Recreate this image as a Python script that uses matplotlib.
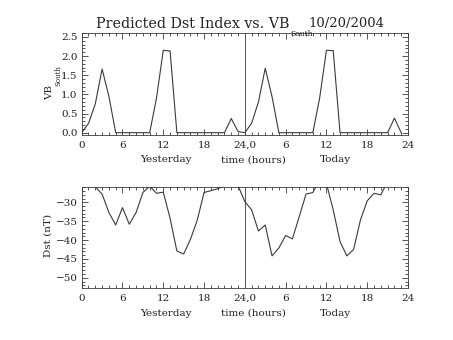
import matplotlib
matplotlib.use('Agg')
import matplotlib.pyplot as plt
from matplotlib.ticker import MultipleLocator
import matplotlib.transforms as mtransforms

# hourly values, yesterday (0-23) then today (24-47)
hours = list(range(48))
vb_south = [0.0, 0.24, 0.75, 1.66, 0.95, 0.0, 0.0, 0.0, 0.0, 0.0,
            0.0, 0.9, 2.15, 2.13, 0.0, 0.0, 0.0, 0.0, 0.0, 0.0,
            0.0, 0.0, 0.37, 0.03,
            0.0, 0.25, 0.8, 1.68, 0.94, 0.0, 0.0, 0.0, 0.0, 0.0,
            0.0, 0.9, 2.15, 2.14, 0.0, 0.0, 0.0, 0.0, 0.0, 0.0,
            0.0, 0.0, 0.38, 0.0]
dst = [-24.0, -24.5, -25.9, -27.8, -32.7, -36.0, -31.4, -35.8, -32.7, -27.4,
       -25.7, -27.6, -27.3, -34.2, -42.9, -43.7, -39.8, -34.7, -27.4, -26.9,
       -26.4, -25.6, -24.0, -25.6,
       -29.8, -32.0, -37.6, -36.0, -44.2, -42.1, -38.8, -39.7, -33.8, -27.8,
       -27.4, -24.0, -25.0, -32.0, -40.4, -44.2, -42.5, -34.7, -29.6, -27.6,
       -28.0, -24.5, -24.0, -24.0]

xticks = [0, 6, 12, 18, 24, 30, 36, 42, 48]
xticklabels = ['0', '6', '12', '18', '24,0', '6', '12', '18', '24']
vb_ticks = [0.0, 0.5, 1.0, 1.5, 2.0, 2.5]
dst_ticks = [-30, -35, -40, -45, -50]

plt.rcParams['font.family'] = 'DejaVu Serif'
plt.rcParams['font.size'] = 7.5

fig = plt.figure(figsize=(4.53, 3.40), dpi=100)
W, H = 453.0, 340.0
ax1 = fig.add_axes([81.7 / W, 1 - 135 / H, (408 - 81.7) / W, 102 / H])
ax2 = fig.add_axes([81.7 / W, 1 - 288.3 / H, (408 - 81.7) / W, 101.6 / H])

lc = '#3a3a3a'
for ax in (ax1, ax2):
    ax.set_xlim(0, 48)
    ax.set_xticks(xticks)
    ax.set_xticklabels(xticklabels)
    ax.xaxis.set_minor_locator(MultipleLocator(1))
    ax.tick_params(which='both', direction='in', top=True, right=True,
                   color=lc, width=0.6, labelcolor='#222222')
    ax.tick_params(which='major', length=4.5)
    ax.tick_params(which='minor', length=2)
    ax.tick_params(axis='x', pad=4)
    ax.tick_params(axis='y', pad=3)
    for s in ax.spines.values():
        s.set_color(lc)
        s.set_linewidth(0.6)
    ax.axvline(24, color='#555555', lw=0.7)
    tr = mtransforms.blended_transform_factory(ax.transData, ax.transAxes)
    ax.text(12.4, -0.245, 'Yesterday', transform=tr, ha='center', va='center', color='#222222')
    ax.text(25.2, -0.245, 'time (hours)', transform=tr, ha='center', va='center', color='#222222')
    ax.text(37.3, -0.245, 'Today', transform=tr, ha='center', va='center', color='#222222')

ax1.plot(hours, vb_south, color=lc, lw=0.8)
ax1.set_ylim(-0.06, 2.6)
ax1.set_yticks(vb_ticks)
ax1.set_yticklabels(['%.1f' % v for v in vb_ticks])
ax1.yaxis.set_minor_locator(MultipleLocator(0.1))

ax2.plot(hours, dst, color=lc, lw=0.8)
ax2.set_ylim(-52.8, -25.85)
ax2.set_yticks(dst_ticks)
ax2.set_yticklabels(['\u2212%d' % -v for v in dst_ticks])
ax2.yaxis.set_minor_locator(MultipleLocator(1))

# title with subscript
fig.text(289 / W, 1 - 24 / H, 'Predicted Dst Index vs. VB', ha='right', va='center',
         fontsize=10.3, color='#222222')
fig.text(290 / W, 1 - 33.5 / H, 'South', ha='left', va='center', fontsize=5.5, color='#222222')
fig.text(308 / W, 1 - 24 / H, '10/20/2004', ha='left', va='center', fontsize=9.5, color='#222222')

# y labels
fig.text(50 / W, 1 - 92 / H, 'VB', rotation=90, ha='center', va='center', color='#222222')
fig.text(58 / W, 1 - 76 / H, 'South', rotation=90, ha='center', va='center', fontsize=5, color='#222222')
fig.text(47.7 / W, 1 - 235 / H, 'Dst (nT)', rotation=90, ha='center', va='center', color='#222222')

fig.savefig('out.png', dpi=100)
